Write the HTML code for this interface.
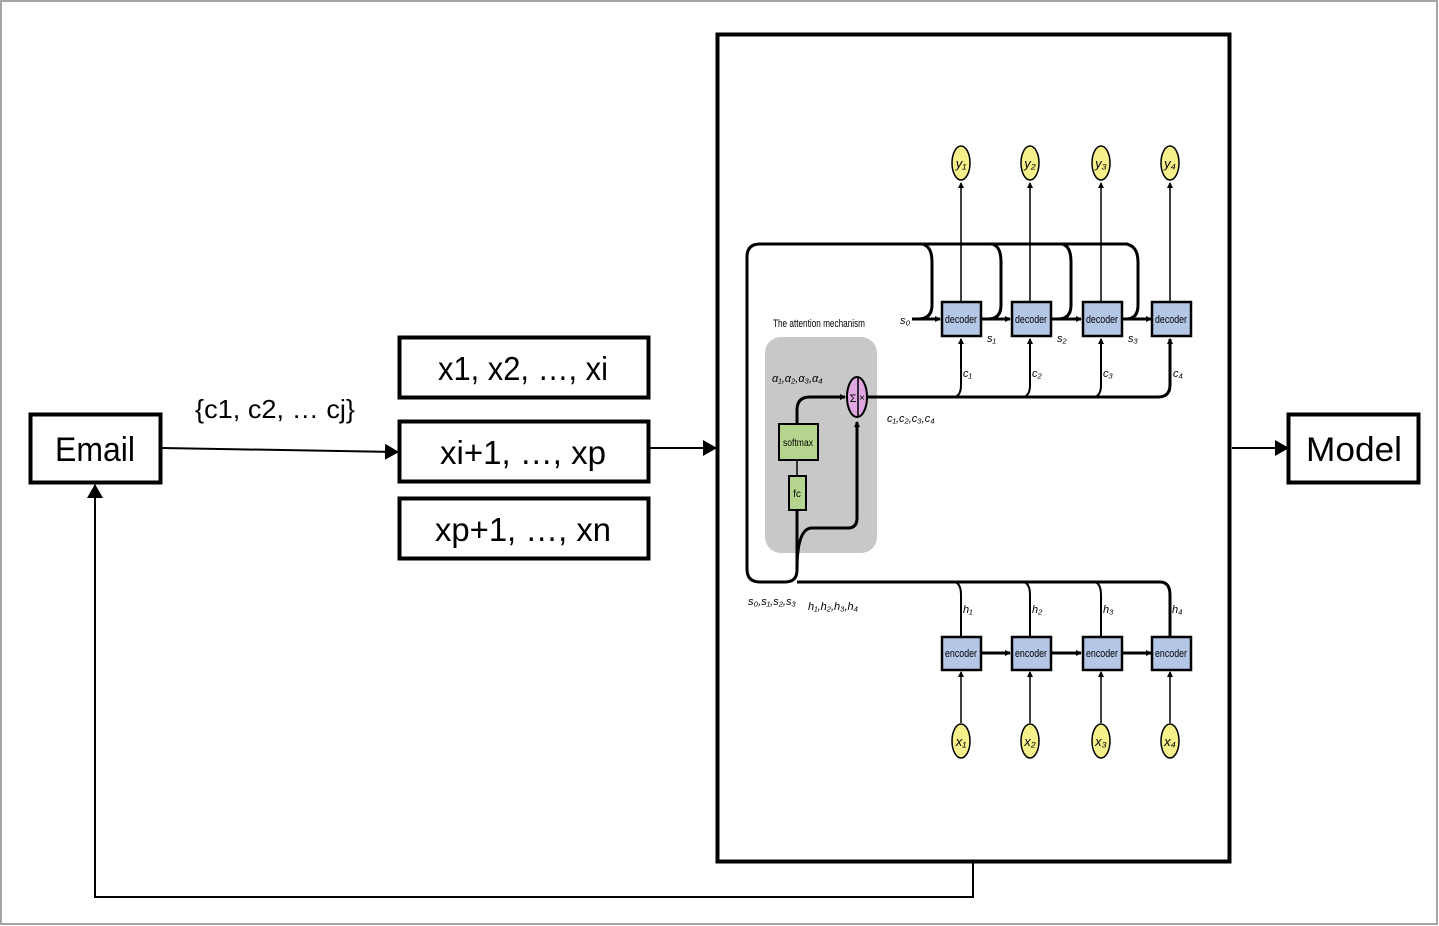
<!DOCTYPE html>
<html><head><style>
html,body{margin:0;padding:0;background:#fff;}
svg{display:block;}
text{font-family:"Liberation Sans",sans-serif;}
</style></head><body>
<svg width="1439" height="926" viewBox="0 0 1439 926" xmlns="http://www.w3.org/2000/svg">
<defs>
<marker id="a" markerWidth="10" markerHeight="10" refX="9" refY="5" orient="auto" markerUnits="userSpaceOnUse"><path d="M0,0 L10,5 L0,10 Z" fill="#000"/></marker>
<marker id="b" markerWidth="14" markerHeight="16" refX="13" refY="8" orient="auto" markerUnits="userSpaceOnUse"><path d="M0,0 L14,8 L0,16 Z" fill="#000"/></marker>
<marker id="s" markerWidth="6" markerHeight="6" refX="5" refY="3" orient="auto" markerUnits="userSpaceOnUse"><path d="M0,0 L6,3 L0,6 Z" fill="#000"/></marker>
</defs>
<rect x="1" y="1" width="1436" height="923" fill="none" stroke="#a6a6a6" stroke-width="2"/>
<!-- left boxes -->
<rect x="30.5" y="414.5" width="130" height="68" fill="#fff" stroke="#000" stroke-width="4"/>
<text x="95" y="461" font-size="34" text-anchor="middle" textLength="80" lengthAdjust="spacingAndGlyphs">Email</text>
<rect x="399.5" y="337.5" width="249" height="60" fill="#fff" stroke="#000" stroke-width="4"/>
<text x="523" y="380" font-size="33" text-anchor="middle" textLength="170" lengthAdjust="spacingAndGlyphs">x1, x2, …, xi</text>
<rect x="399.5" y="421.5" width="249" height="60" fill="#fff" stroke="#000" stroke-width="4"/>
<text x="523" y="464" font-size="33" text-anchor="middle" textLength="166" lengthAdjust="spacingAndGlyphs">xi+1,  …, xp</text>
<rect x="399.5" y="498.5" width="249" height="60" fill="#fff" stroke="#000" stroke-width="4"/>
<text x="523" y="541" font-size="33" text-anchor="middle" textLength="176" lengthAdjust="spacingAndGlyphs">xp+1,  …, xn</text>
<text x="275" y="418" font-size="26" text-anchor="middle" textLength="160" lengthAdjust="spacingAndGlyphs">{c1, c2, … cj}</text>
<line x1="162" y1="448" x2="398" y2="452" stroke="#000" stroke-width="2" marker-end="url(#b)"/>
<line x1="650" y1="448" x2="716" y2="448" stroke="#000" stroke-width="2" marker-end="url(#b)"/>
<line x1="1232" y1="448" x2="1288" y2="448" stroke="#000" stroke-width="2" marker-end="url(#b)"/>
<rect x="1288.5" y="414.5" width="130" height="68" fill="#fff" stroke="#000" stroke-width="4"/>
<text x="1354" y="461" font-size="34" text-anchor="middle" textLength="96" lengthAdjust="spacingAndGlyphs">Model</text>
<polyline points="973,862 973,897 95,897 95,485" fill="none" stroke="#000" stroke-width="2" marker-end="url(#b)"/>
<!-- big box -->
<rect x="717.5" y="34.5" width="512" height="827" fill="#fff" stroke="#000" stroke-width="4"/>
<!-- gray attention -->
<rect x="765" y="337" width="112" height="216" rx="16" fill="#c8c8c8"/>
<text x="819" y="327" font-size="11" text-anchor="middle" textLength="92" lengthAdjust="spacingAndGlyphs">The attention mechanism</text>
<g fill="none" stroke="#000" stroke-width="3">
<!-- top loop -->
<path d="M1128,244 L760,244 Q747,244 747,257 L747,569 Q747,582 760,582 L785,582 Q797,582 797,570 L797,510"/>
<path d="M797,582 Q797,582 810,582 L1160,582 Q1170,582 1170,595 L1170,637" stroke-width="3"/>
<path d="M797,570 Q797,528 812,528 L848,528 Q857,528 857,518 L857,422" marker-end="url(#s)"/>
<path d="M797,423 L797,410 Q797,397 810,397 L845,397" marker-end="url(#s)"/>
<path d="M868,397 L1158,397 Q1170,397 1170,385 L1170,339" marker-end="url(#s)"/>
<path d="M922,244 Q932,246 932,262 L932,305 Q932,319 918,319"/>
<path d="M992,244 Q1001,246 1001,262 L1001,305 Q1001,319 988,319"/>
<path d="M1062,244 Q1071,246 1071,262 L1071,305 Q1071,319 1058,319"/>
<path d="M1126,244 Q1138,246 1138,262 L1138,305 Q1138,319 1126,319"/>
<path d="M912,319 L940,319" marker-end="url(#s)"/>
<path d="M982,319 L1010,319" marker-end="url(#s)"/>
<path d="M1052,319 L1081,319" marker-end="url(#s)"/>
<path d="M1123,319 L1151,319" marker-end="url(#s)"/>
<path d="M955,397 Q961,395 961,385 L961,339" stroke-width="2" marker-end="url(#s)"/>
<path d="M1024,397 Q1030,395 1030,385 L1030,339" stroke-width="2" marker-end="url(#s)"/>
<path d="M1095,397 Q1101,395 1101,385 L1101,339" stroke-width="2" marker-end="url(#s)"/>
<path d="M955,582 Q961,584 961,595 L961,637" stroke-width="2"/>
<path d="M1024,582 Q1030,584 1030,595 L1030,637" stroke-width="2"/>
<path d="M1095,582 Q1101,584 1101,595 L1101,637" stroke-width="2"/>
<path d="M982,653 L1010,653" marker-end="url(#s)"/>
<path d="M1052,653 L1081,653" marker-end="url(#s)"/>
<path d="M1123,653 L1151,653" marker-end="url(#s)"/>
</g>
<g stroke="#000" stroke-width="1.5" fill="none">
<line x1="797" y1="460" x2="797" y2="475"/>
<line x1="961" y1="301" x2="961" y2="183" marker-end="url(#s)"/>
<line x1="1030" y1="301" x2="1030" y2="183" marker-end="url(#s)"/>
<line x1="1101" y1="301" x2="1101" y2="183" marker-end="url(#s)"/>
<line x1="1170" y1="301" x2="1170" y2="183" marker-end="url(#s)"/>
<line x1="961" y1="723" x2="961" y2="672" marker-end="url(#s)"/>
<line x1="1030" y1="723" x2="1030" y2="672" marker-end="url(#s)"/>
<line x1="1101" y1="723" x2="1101" y2="672" marker-end="url(#s)"/>
<line x1="1170" y1="723" x2="1170" y2="672" marker-end="url(#s)"/>
</g>
<!-- decoders -->
<g fill="#b4c7e7" stroke="#000" stroke-width="2.5">
<rect x="942" y="302" width="39" height="34"/><rect x="1012" y="302" width="39" height="34"/>
<rect x="1083" y="302" width="39" height="34"/><rect x="1152" y="302" width="39" height="34"/>
<rect x="942" y="637" width="39" height="33"/><rect x="1012" y="637" width="39" height="33"/>
<rect x="1083" y="637" width="39" height="33"/><rect x="1152" y="637" width="39" height="33"/>
</g>
<g font-size="11" text-anchor="middle">
<text x="961" y="323" textLength="32" lengthAdjust="spacingAndGlyphs">decoder</text>
<text x="1031" y="323" textLength="32" lengthAdjust="spacingAndGlyphs">decoder</text>
<text x="1102" y="323" textLength="32" lengthAdjust="spacingAndGlyphs">decoder</text>
<text x="1171" y="323" textLength="32" lengthAdjust="spacingAndGlyphs">decoder</text>
<text x="961" y="657" textLength="32" lengthAdjust="spacingAndGlyphs">encoder</text>
<text x="1031" y="657" textLength="32" lengthAdjust="spacingAndGlyphs">encoder</text>
<text x="1102" y="657" textLength="32" lengthAdjust="spacingAndGlyphs">encoder</text>
<text x="1171" y="657" textLength="32" lengthAdjust="spacingAndGlyphs">encoder</text>
</g>
<g fill="#b5d58e" stroke="#000" stroke-width="2">
<rect x="779" y="424" width="39" height="36"/><rect x="789" y="476" width="17" height="34"/>
</g>
<text x="798" y="446" font-size="10" text-anchor="middle" textLength="30" lengthAdjust="spacingAndGlyphs">softmax</text>
<text x="797" y="497" font-size="10" text-anchor="middle">fc</text>
<ellipse cx="857" cy="397" rx="10" ry="20" fill="#e0a8e0" stroke="#000" stroke-width="2"/>
<line x1="858" y1="377" x2="858" y2="417" stroke="#000" stroke-width="1.5"/>
<text x="853" y="402" font-size="11" text-anchor="middle">Σ</text>
<text x="862" y="401" font-size="10" text-anchor="middle">×</text>
<!-- circles -->
<g fill="#f5f08a" stroke="#000" stroke-width="1.5">
<ellipse cx="961" cy="163" rx="9" ry="17"/><ellipse cx="1030" cy="163" rx="9" ry="17"/>
<ellipse cx="1101" cy="163" rx="9" ry="17"/><ellipse cx="1170" cy="163" rx="9" ry="17"/>
<ellipse cx="961" cy="741" rx="9" ry="17"/><ellipse cx="1030" cy="741" rx="9" ry="17"/>
<ellipse cx="1101" cy="741" rx="9" ry="17"/><ellipse cx="1170" cy="741" rx="9" ry="17"/>
</g>
<g font-size="13" font-style="italic" text-anchor="middle" font-family="Liberation Serif">
<text x="961" y="168">y₁</text><text x="1030" y="168">y₂</text><text x="1101" y="168">y₃</text><text x="1170" y="168">y₄</text>
<text x="961" y="746">x₁</text><text x="1030" y="746">x₂</text><text x="1101" y="746">x₃</text><text x="1170" y="746">x₄</text>
</g>
<g font-size="11" font-style="italic" font-family="Liberation Serif">
<text x="900" y="324">s₀</text>
<text x="987" y="342">s₁</text><text x="1057" y="342">s₂</text><text x="1128" y="342">s₃</text>
<text x="963" y="377">c₁</text><text x="1032" y="377">c₂</text><text x="1103" y="377">c₃</text><text x="1173" y="377">c₄</text>
<text x="963" y="613">h₁</text><text x="1032" y="613">h₂</text><text x="1103" y="613">h₃</text><text x="1172" y="613">h₄</text>
<text x="772" y="382">α₁,α₂,α₃,α₄</text>
<text x="887" y="422">c₁,c₂,c₃,c₄</text>
<text x="748" y="605">s₀,s₁,s₂,s₃</text>
<text x="808" y="610">h₁,h₂,h₃,h₄</text>
</g>
</svg>
</body></html>
